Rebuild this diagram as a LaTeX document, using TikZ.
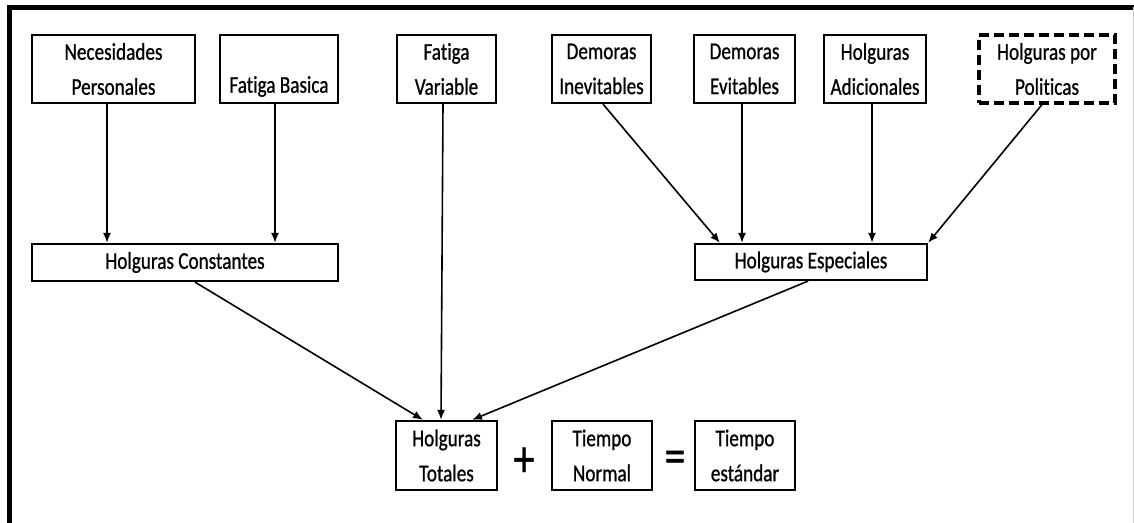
\documentclass[tikz,border=0pt]{standalone}
\usepackage{fontspec}
\setmainfont{Carlito}[FakeStretch=0.8, FakeBold=0.8, Ligatures=NoCommon]
\usetikzlibrary{arrows.meta,positioning,calc}

\tikzset{
    box/.style={draw, line width=1.1pt, inner sep=0pt, align=center, font=\fontsize{12}{17.5}\selectfont},
    dbox/.style={box, dash pattern=on 5pt off 2.5pt, line width=1.6pt},
    arr/.style={-{Latex[length=5pt,width=4pt]}, line width=0.8pt},
    sign/.style={inner sep=0pt, font=\fontsize{26}{26}\selectfont}
}

\begin{document}
\begin{tikzpicture}[x=0.5pt,y=-0.5pt]
        \useasboundingbox (0,0) rectangle (1134,523);

        % frame
        \draw[line width=2.5pt] (9.5,523) -- (9.5,7.5) -- (1134,7.5);
        \draw[gray!40, line width=0.5pt] (1133,7.5) -- (1133,523);

        % top row boxes
        \node[box, minimum width=81.5pt, minimum height=34pt] (nec) at (113.5,69) {Necesidades\\Personales};
        \node[box, minimum width=59pt, minimum height=34pt] (bas) at (279,69) {\vphantom{Fatiga}\\Fatiga Basica};
        \node[box, minimum width=49.5pt, minimum height=34pt] (var) at (446.5,69) {Fatiga\\Variable};
        \node[box, minimum width=49.5pt, minimum height=34pt] (inev) at (601.5,69) {Demoras\\Inevitables};
        \node[box, minimum width=50.5pt, minimum height=34pt] (evit) at (744.5,69) {Demoras\\Evitables};
        \node[box, minimum width=51pt, minimum height=34pt] (adic) at (875,69) {Holguras\\Adicionales};
        \node[dbox, minimum width=68pt, minimum height=34pt] (pol) at (1047,69) {Holguras por\\Politicas};

        % middle row boxes
        \node[box, minimum width=153pt, minimum height=18.5pt] (cons) at (185,262.5) {Holguras Constantes};
        \node[box, minimum width=116pt, minimum height=18pt] (esp) at (811,262) {Holguras Especiales};

        % bottom row
        \node[box, minimum width=50.5pt, minimum height=34.5pt] (tot) at (446.5,455.5) {Holguras\\Totales};
        \node[sign] (plus) at (524,462) {+};
        \node[box, minimum width=50pt, minimum height=34.5pt] (norm) at (602,455.5) {Tiempo\\Normal};
        \node[sign] (eq) at (675,462) {=};
        \node[box, minimum width=50pt, minimum height=34.5pt] (std) at (745,455.5) {Tiempo\\estándar};

        % arcs into Holguras Constantes
        \draw[arr] ([xshift=-3.25pt]nec.south) -- ([xshift=-3.25pt]nec.south |- cons.north);
        \draw[arr] ([xshift=-2pt]bas.south) -- ([xshift=-2pt]bas.south |- cons.north);

        % arcs into Holguras Especiales
        \draw[arr] ([xshift=0.75pt]inev.south) -- ([xshift=-45.5pt]esp.north);
        \draw[arr] ([xshift=-1.25pt]evit.south) -- ([xshift=-1.25pt]evit.south |- esp.north);
        \draw[arr] ([xshift=-1.5pt]adic.south) -- ([xshift=-1.5pt]adic.south |- esp.north);
        \draw[arr] ([xshift=-2.5pt]pol.south) -- (esp.north east);

        % arcs into Holguras Totales
        \draw[arr] ([xshift=5pt]cons.south) -- ([xshift=-11.75pt]tot.north);
        \draw[arr] ([xshift=-1.75pt]var.south) -- ([xshift=-2.75pt]tot.north);
        \draw[arr] ([xshift=-1.5pt]esp.south) -- ([xshift=12.75pt]tot.north);

    \end{tikzpicture}
\end{document}
